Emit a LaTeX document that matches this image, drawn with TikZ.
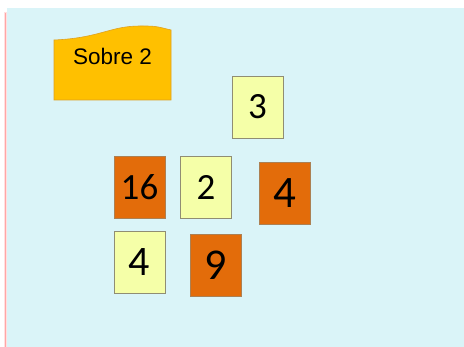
\documentclass[tikz,border=0pt]{standalone}
\usepackage{fontspec}
\setmainfont{Liberation Sans}
\newfontfamily\cardfont{Carlito}
\definecolor{fondo}{HTML}{DAF4F8}
\definecolor{amarillo}{HTML}{F5FFA8}
\definecolor{naranja}{HTML}{E36C0A}
\definecolor{sobre}{HTML}{FFC000}
\tikzset{
  carta/.style={draw=gray!80!olive, line width=0.8pt, minimum width=51pt, minimum height=62pt, inner sep=0pt, font=\cardfont\fontsize{37}{37}\selectfont},
  claro/.style={carta, fill=amarillo},
  oscuro/.style={carta, fill=naranja, draw=brown!70!gray}
}
\begin{document}
\begin{tikzpicture}[x=1pt,y=-1pt]
\useasboundingbox (0,0) rectangle (464,347);
\fill[white] (0,0) rectangle (464,347);
\fill[fondo] (7,8) rectangle (464,347);
\draw[red!20, line width=3pt, opacity=0.6] (5,12) -- (5,347);
\draw[red!35, line width=1.2pt] (5.5,13) -- (5.5,347);
\draw[sobre!50!brown, line width=0.6pt, fill=sobre] (54,40) .. controls (100,38) and (110,26) .. (140,26) .. controls (155,26) .. (171,30) -- (171,100) -- (54,100) -- cycle;
\node[font=\fontsize{22.5}{22.5}\selectfont] (sobre) at (112.5,56) {Sobre 2};
\node[claro] (tres) at (257.5,107) {3};
\node[oscuro] (dieciseis) at (139.5,187) {16};
\node[claro] (dos) at (206,187) {2};
\node[oscuro, font=\cardfont\fontsize{45}{45}\selectfont] (cuatroa) at (284.5,193.5) {4};
\node[claro, font=\cardfont\fontsize{42}{42}\selectfont] (cuatrob) at (139.5,262) {4};
\node[oscuro, font=\cardfont\fontsize{44}{44}\selectfont] (nueve) at (216,265.5) {9};
\end{tikzpicture}
\end{document}
